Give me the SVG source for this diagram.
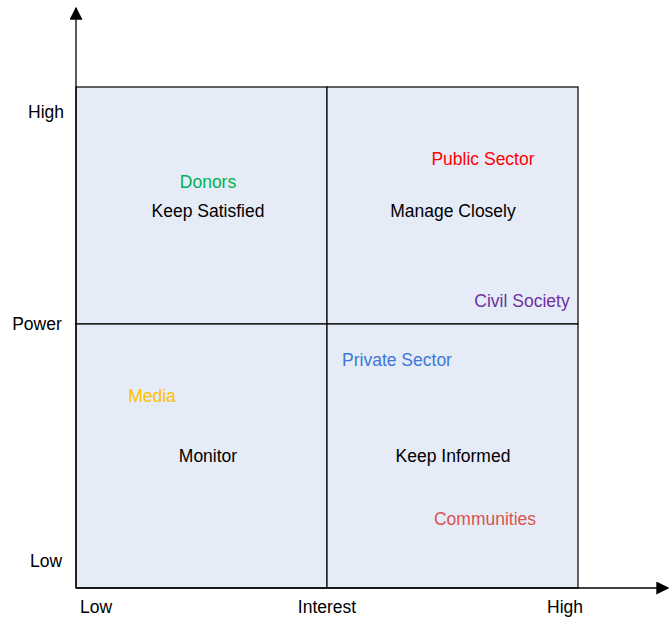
<svg xmlns="http://www.w3.org/2000/svg" width="670" height="620" viewBox="0 0 670 620">
<defs>
<style>
text{font-family:"Liberation Sans",Arial,sans-serif;font-size:17.5px;text-anchor:middle;dominant-baseline:central}
.ax{stroke:#000;stroke-width:1.3;fill:none}
.q{fill:#E6ECF7;stroke:#000;stroke-width:1.2}
</style>
<marker id="ah" viewBox="0 0 10 10" refX="9" refY="5" markerWidth="13" markerHeight="13" markerUnits="userSpaceOnUse" orient="auto">
<path d="M0,0 L10,5 L0,10 Z" fill="#000"/>
</marker>
</defs>
<rect width="670" height="620" fill="#fff"/>
<g id="quadrants">
<rect id="q-tl" class="q" x="76" y="87" width="251" height="237"/>
<rect id="q-tr" class="q" x="327" y="87" width="251" height="237"/>
<rect id="q-bl" class="q" x="76" y="324" width="251" height="264"/>
<rect id="q-br" class="q" x="327" y="324" width="251" height="264"/>
</g>
<g id="connectors">
<line class="ax" x1="76" y1="588" x2="76" y2="8" marker-end="url(#ah)"/>
<line class="ax" x1="76" y1="588" x2="668" y2="588" marker-end="url(#ah)"/>
</g>
<g id="labels">
<text x="208" y="211">Keep Satisfied</text>
<text x="453" y="211">Manage Closely</text>
<text x="208" y="456">Monitor</text>
<text x="453" y="456">Keep Informed</text>
</g>
<g id="stakeholders">
<text id="donors" x="208" y="182" fill="#00B050">Donors</text>
<text id="public" x="483" y="159" fill="#FF0000">Public Sector</text>
<text id="civil" x="522" y="301" fill="#7030A0">Civil Society</text>
<text id="private" x="397" y="360" fill="#3C78D8">Private Sector</text>
<text id="media" x="152" y="396" fill="#FFC000">Media</text>
<text id="communities" x="485" y="519" fill="#D9534F">Communities</text>
</g>
<g id="axis-labels">
<text x="46" y="112">High</text>
<text x="37" y="324">Power</text>
<text x="46" y="561">Low</text>
<text x="96" y="607">Low</text>
<text x="327" y="607">Interest</text>
<text x="565" y="607">High</text>
</g>
</svg>
